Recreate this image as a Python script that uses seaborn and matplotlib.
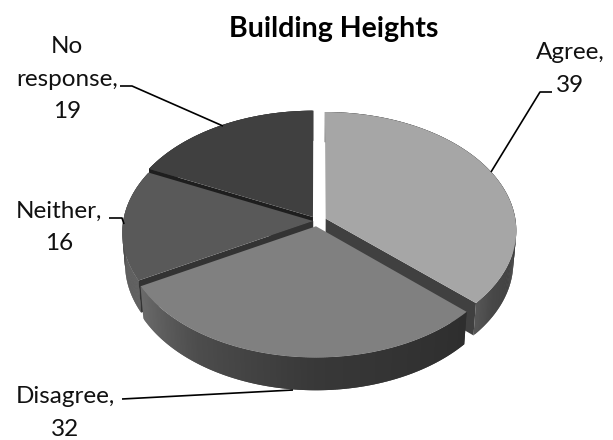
import numpy as np
import seaborn as sns
import matplotlib
matplotlib.use('Agg')
import matplotlib.pyplot as plt
import matplotlib.transforms as mtransforms
from matplotlib.collections import PolyCollection

# chart values
categories = ['Agree', 'Disagree', 'Neither', 'No response']
values = [39, 32, 16, 19]
chart_title = 'Building Heights'

# look of the slices
explode = [0.05, 0.045, 0.02, 0.04]
top_colors = sns.color_palette(['#a6a6a6', '#808080', '#595959', '#404040'])
# which end of each slice shows a cut face, and in which grey
cut_faces = {'Agree': ('theta1', '#404040'), 'Neither': ('theta2', '#333333'), 'No response': ('theta2', '#1e1e1e')}
side_stops = {
    'Agree': ([-42.5, -33, -15, 90], [0.34, 0.28, 0.25, 0.25]),
    'Disagree': ([-151, -125, -90, -42.5], [0.42, 0.30, 0.22, 0.18]),
    'Neither': ([-205.5, -175, -151], [0.22, 0.27, 0.36]),
    'No response': ([90, 270], [0.2, 0.2]),
}
draw_order = ['No response', 'Neither', 'Agree', 'Disagree']

# tilted disc -> pixels, with a little perspective
CX, CY = 317, 221
RX, RY = 190, 117.4
PERSP, DEPTH, SHRINK = 0.097, 32, 0.015


def project(x, y, z=0.0):
    s = 1 / (1 + PERSP * y + SHRINK * z)
    return np.column_stack([CX + RX * x * s, CY - RY * y * s + DEPTH * z * s])


class Tilt(mtransforms.Transform):
    input_dims = 2
    output_dims = 2

    def transform_non_affine(self, values):
        values = np.asarray(values)
        return project(values[:, 0], values[:, 1])


sns.set_theme(style='white')
plt.rcParams['font.family'] = ['Lato', 'DejaVu Sans']

fig, ax = plt.subplots(figsize=(6.13, 4.40), dpi=100)
fig.subplots_adjust(0, 0, 1, 1)

wedges, _ = ax.pie(values, explode=explode, colors=top_colors, startangle=90,
                   counterclock=False, wedgeprops=dict(linewidth=0))

ax.set_aspect('auto')
ax.set_xlim(0, 613)
ax.set_ylim(440, 0)
ax.axis('off')

tilt = Tilt() + ax.transData
for i, name in enumerate(categories):
    w = wedges[i]
    order = draw_order.index(name)
    w.set_transform(tilt)
    w.set_zorder(2 * order + 1)
    cx, cy = w.center

    # outer wall, as overlapping strips so that the shade can run along the arc
    t = np.linspace(w.theta1, w.theta2, 180)
    px = cx + w.r * np.cos(np.radians(t))
    py = cy + w.r * np.sin(np.radians(t))
    upper = project(px, py, 0.0)
    lower = project(px, py, 1.0)
    strips = []
    for j in range(len(t) - 1):
        k = min(j + 3, len(t))
        strips.append(np.vstack([upper[j:k], lower[j:k][::-1]]))
    stops_x, stops_v = side_stops[name]
    mid = (t[:-1] + t[1:]) / 2
    if name == 'No response':
        mid = mid % 360
    shades = np.interp(mid, stops_x, stops_v)
    cols = [(v, v, v) for v in shades]
    ax.add_collection(PolyCollection(strips, facecolors=cols, linewidths=0,
                                     zorder=2 * order, transform=ax.transData))

    # cut face, seen only where the slice end looks towards the viewer
    if name in cut_faces:
        end, color = cut_faces[name]
        ang = np.radians(getattr(w, end))
        ex = cx + w.r * np.cos(ang)
        ey = cy + w.r * np.sin(ang)
        a = project(np.array([cx, ex]), np.array([cy, ey]), 0.0)
        b = project(np.array([cx, ex]), np.array([cy, ey]), 1.0)
        ax.fill([a[0, 0], a[1, 0], b[1, 0], b[0, 0]], [a[0, 1], a[1, 1], b[1, 1], b[0, 1]],
                color=color, linewidth=0, zorder=2 * order + 0.5)

# title and labels
ax.text(334, 29, chart_title, ha='center', va='center', fontsize=20.5, fontweight='bold', color='black', zorder=20)
label_kw = dict(ha='center', va='center', fontsize=17.5, color='#111111', linespacing=1.66, zorder=20)
ax.text(67, 79, 'No\nresponse,\n19', **label_kw)
ax.text(59, 227, 'Neither,\n16', **label_kw)
ax.text(65, 413, 'Disagree,\n32', **label_kw)
ax.text(570, 69, 'Agree,\n39', **label_kw)

# leader lines
line_kw = dict(color='black', linewidth=1.2, zorder=19, solid_capstyle='butt')
ax.plot([120, 132, 223], [86, 86, 126], **line_kw)
ax.plot([109, 122, 124], [218, 218, 224], **line_kw)
ax.plot([122, 293], [399, 390], **line_kw)
ax.plot([552, 540, 491], [92, 92, 172], **line_kw)

fig.savefig('out.png', dpi=100, facecolor='white')
